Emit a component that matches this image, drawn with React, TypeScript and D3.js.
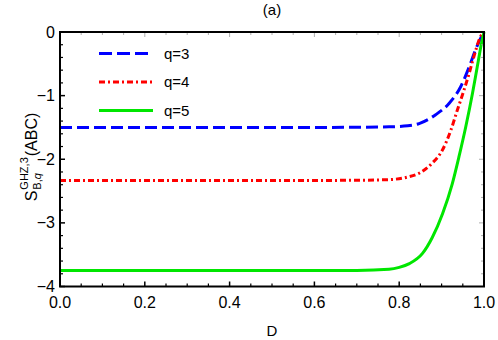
import * as d3 from "d3";
import { useRef, useEffect } from "react";

// values
const seriesNames = ["q=3", "q=4", "q=5"];
const seriesColors = ["#0000ff", "#ff0000", "#00e600"];
const seriesDash = ["12,5", "6,3,2,3", null];

const q3D = [0, 0.2, 0.4, 0.6, 0.7, 0.776, 0.82, 0.847, 0.886, 0.918, 0.945, 0.965, 0.98, 0.992, 1];
const q3S = [-1.5, -1.5, -1.5, -1.5, -1.497, -1.49, -1.475, -1.44, -1.3, -1.12, -0.86, -0.55, -0.28, -0.1, 0];

const q4D = [0, 0.2, 0.4, 0.6, 0.7, 0.776, 0.82, 0.847, 0.878, 0.902, 0.922, 0.937, 0.953, 0.965, 0.976, 0.992, 1];
const q4S = [-2.333, -2.333, -2.333, -2.333, -2.33, -2.32, -2.28, -2.22, -2.06, -1.855, -1.54, -1.23, -0.91, -0.65, -0.39, -0.07, 0];

const q5D = [0, 0.2, 0.4, 0.6, 0.7, 0.776, 0.8, 0.824, 0.855, 0.878, 0.902, 0.925, 0.941, 0.957, 0.973, 0.984, 0.994, 1];
const q5S = [-3.75, -3.75, -3.75, -3.75, -3.748, -3.73, -3.7, -3.64, -3.48, -3.23, -2.86, -2.39, -1.96, -1.49, -0.96, -0.55, -0.18, 0];

const xTicks = [0, 0.2, 0.4, 0.6, 0.8, 1.0];
const yTicks = [0, -1, -2, -3, -4];

const title = "(a)";
const xLabel = "D";

export default function App() {
  const ref = useRef<SVGSVGElement>(null);
  const width = 498, height = 340;
  const margin = { left: 60, right: 14, top: 32, bottom: 53.5 };

  useEffect(() => {
    const svg = d3.select(ref.current);
    svg.selectAll("*").remove();
    const font = "'Liberation Sans', Arial, sans-serif";

    const x = d3.scaleLinear().domain([0, 1]).range([margin.left, width - margin.right]);
    const y = d3.scaleLinear().domain([-4, 0]).range([height - margin.bottom, margin.top]);

    const series = [
      q3D.map((d, i) => [d, q3S[i]]),
      q4D.map((d, i) => [d, q4S[i]]),
      q5D.map((d, i) => [d, q5S[i]]),
    ];

    const line = d3.line<number[]>()
      .x(d => x(d[0]))
      .y(d => y(d[1]))
      .curve(d3.curveMonotoneX);

    svg.append("clipPath").attr("id", "plotclip")
      .append("rect")
      .attr("x", x(0)).attr("y", y(0) - 2)
      .attr("width", x(1) - x(0) + 2).attr("height", y(-4) - y(0) + 2);

    // curves
    series.forEach((s, i) => {
      svg.append("path")
        .attr("clip-path", "url(#plotclip)")
        .attr("d", line(s as number[][]))
        .attr("fill", "none")
        .attr("stroke", seriesColors[i])
        .attr("stroke-width", 3)
        .attr("stroke-dasharray", seriesDash[i] ?? null);
    });

    // frame ticks
    const minorX = d3.range(0, 1.0001, 0.05);
    const minorY = d3.range(-4, 0.0001, 0.2);
    const isMajor = (v: number, step: number) => Math.abs(v / step - Math.round(v / step)) < 1e-6;
    const ticks = svg.append("g");
    minorX.forEach(v => {
      const major = isMajor(v, 0.2);
      const len = major ? 5 : 3;
      ticks.append("line").attr("x1", x(v)).attr("x2", x(v))
        .attr("y1", y(-4)).attr("y2", y(-4) - len)
        .attr("stroke", "#000").attr("stroke-width", major ? 1.5 : 1.2);
      ticks.append("line").attr("x1", x(v)).attr("x2", x(v))
        .attr("y1", y(0)).attr("y2", y(0) + len)
        .attr("stroke", "#999").attr("stroke-width", 0.8);
    });
    minorY.forEach(v => {
      const major = isMajor(v, 1);
      const len = major ? 5 : 3;
      ticks.append("line").attr("y1", y(v)).attr("y2", y(v))
        .attr("x1", x(0)).attr("x2", x(0) + len)
        .attr("stroke", "#000").attr("stroke-width", major ? 1.5 : 1.2);
      ticks.append("line").attr("y1", y(v)).attr("y2", y(v))
        .attr("x1", x(1)).attr("x2", x(1) - len)
        .attr("stroke", "#999").attr("stroke-width", 0.8);
    });

    // frame
    svg.append("rect")
      .attr("x", x(0)).attr("y", y(0))
      .attr("width", x(1) - x(0)).attr("height", y(-4) - y(0))
      .attr("fill", "none").attr("stroke", "#000").attr("stroke-width", 2);

    // tick labels
    svg.append("g").selectAll("text").data(xTicks).join("text")
      .attr("x", d => x(d)).attr("y", y(-4) + 21)
      .attr("text-anchor", "middle")
      .style("font", `16px ${font}`)
      .text(d => d3.format(".1f")(d));

    svg.append("g").selectAll("text").data(yTicks).join("text")
      .attr("x", x(0) - 5).attr("y", d => y(d) + 5.5)
      .attr("text-anchor", "end")
      .style("font", `16px ${font}`)
      .text(d => (d < 0 ? "\u2212" + Math.abs(d) : String(d)));

    // title and x label
    svg.append("text").attr("x", 272).attr("y", 15).attr("text-anchor", "middle")
      .style("font", `15px ${font}`).text(title);
    svg.append("text").attr("x", 272).attr("y", 336).attr("text-anchor", "middle")
      .style("font", `15px ${font}`).text(xLabel);

    // y label: S with stacked super/subscript, then (ABC)
    const yl = svg.append("g").attr("transform", `translate(37,157) rotate(-90)`)
      .style("font-family", font);
    const sT = yl.append("text").attr("y", 0).style("font-size", "16px").text("S");
    const sw = (sT.node() as SVGTextElement).getComputedTextLength();
    const sup = yl.append("text").attr("x", sw + 1).attr("y", -9).style("font-size", "11px").text("GHZ,3");
    const sub = yl.append("text").attr("x", sw + 1).attr("y", 4).style("font-size", "11px");
    sub.append("tspan").text("B,");
    sub.append("tspan").style("font-style", "italic").text("q");
    const scw = Math.max(
      (sup.node() as SVGTextElement).getComputedTextLength(),
      (sub.node() as SVGTextElement).getComputedTextLength());
    const abc = yl.append("text").attr("x", sw + scw + 2).attr("y", 0).style("font-size", "16px").text("(ABC)");
    const total = sw + scw + 2 + (abc.node() as SVGTextElement).getComputedTextLength();
    yl.selectAll("text").attr("transform", `translate(${-total / 2},0)`);

    // legend
    const lg = svg.append("g");
    seriesNames.forEach((n, i) => {
      const ly = 53.5 + i * 28.5;
      lg.append("line").attr("x1", 99).attr("x2", 153).attr("y1", ly).attr("y2", ly)
        .attr("stroke", seriesColors[i]).attr("stroke-width", 3)
        .attr("stroke-dasharray", i === 0 ? "13,5" : seriesDash[i] ?? null);
      lg.append("text").attr("x", 164).attr("y", ly + 5)
        .style("font", `15px ${font}`).text(n);
    });
  });

  return (
    <svg ref={ref} width={width} height={height}
      style={{ position: "absolute", left: 0, top: 0, background: "#fff" }} />
  );
}
